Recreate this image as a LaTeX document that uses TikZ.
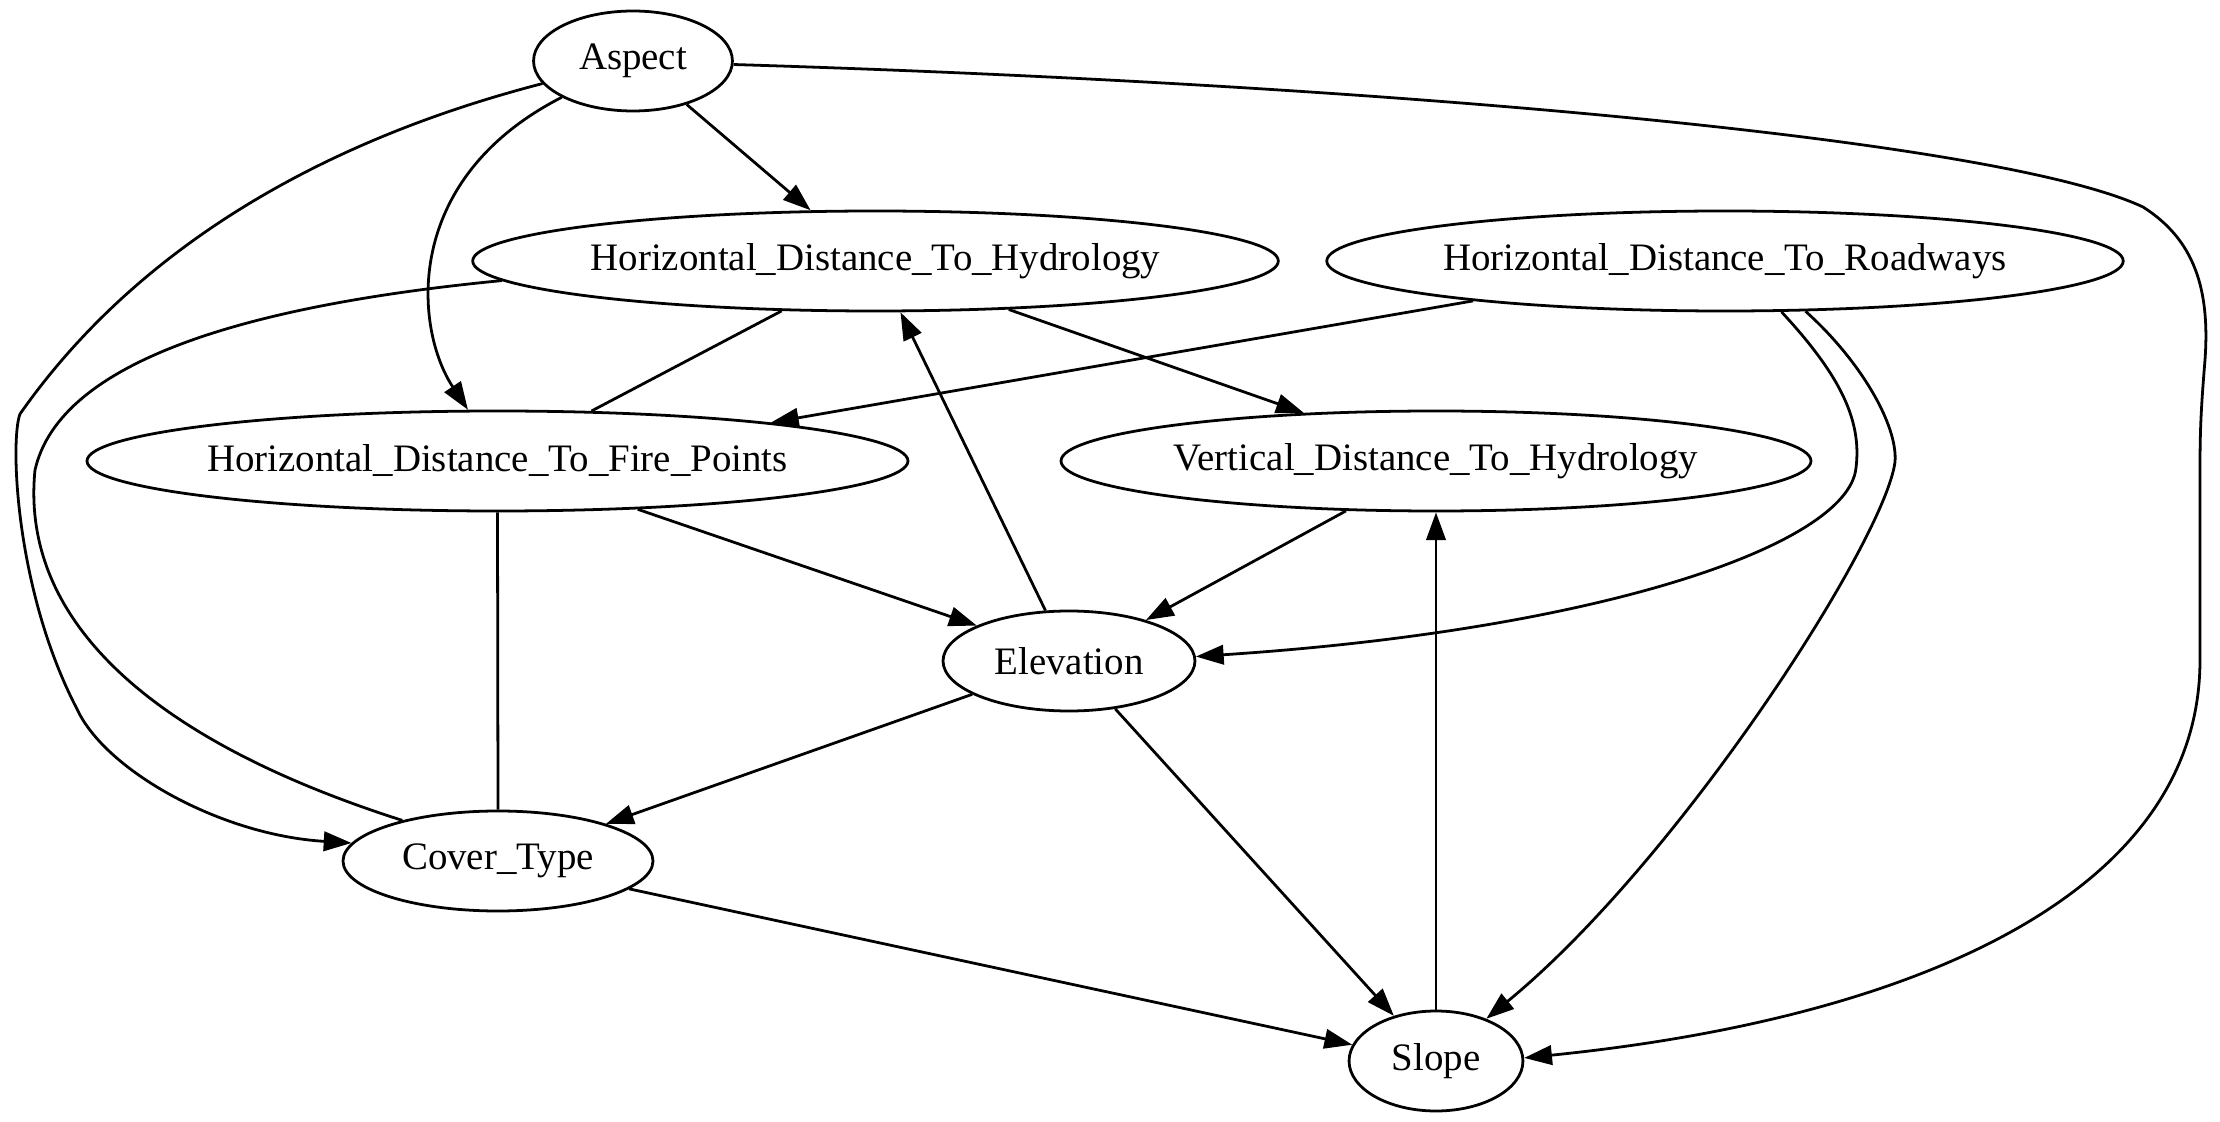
\documentclass[tikz,border=0pt]{standalone}
\usepackage{fontspec}
\setmainfont{Liberation Serif}
\usetikzlibrary{shapes.geometric,arrows.meta}
\tikzset{
  var/.style={draw, ellipse, line width=1pt, inner sep=0pt, minimum height=36pt, font=\fontsize{14}{16}\selectfont},
  arr/.style={line width=1pt, -{Triangle[length=10pt,width=7pt]}},
  undir/.style={line width=1pt}
}
\begin{document}
\begin{tikzpicture}[x=0.36pt,y=-0.36pt]
\useasboundingbox (0,0) rectangle (2220,1122);
\node[var, minimum width=71.6pt]  (asp)   at (633,61)    {Aspect};
\node[var, minimum width=289.4pt] (hdh)   at (875.5,261) {Horizontal\_Distance\_To\_Hydrology};
\node[var, minimum width=285.8pt] (hdr)   at (1725,261)  {Horizontal\_Distance\_To\_Roadways};
\node[var, minimum width=293pt]   (hdfp)  at (497.5,461) {Horizontal\_Distance\_To\_Fire\_Points};
\node[var, minimum width=270pt]   (vdh)   at (1436,461)  {Vertical\_Distance\_To\_Hydrology};
\node[var, minimum width=90.7pt]  (elev)  at (1069,661)  {Elevation};
\node[var, minimum width=111.6pt] (ct)    at (498,861)   {Cover\_Type};
\node[var, minimum width=62.6pt]  (slope) at (1436,1061) {Slope};

% Aspect edges
\draw[arr] (asp.-39) -- (hdh.142);
\draw[arr] (asp.207) .. controls (400,180) and (415,330) .. (hdfp.120);
\draw[arr] (asp.194) .. controls (410,118) and (170,200) .. (20,414)
  .. controls (10,440) and (15,590) .. (77,709)
  .. controls (105,770) and (220,835) .. (ct.173.5);
\draw[arr] (asp.-2) .. controls (1400,85) and (2000,140) .. (2143,207)
  .. controls (2195,240) and (2210,290) .. (2205,360)
  .. controls (2200,420) and (2200,440) .. (2200,480) -- (2200,660)
  .. controls (2200,900) and (1900,1020) .. (slope.2.3);

% HDH edges
\draw[undir] (hdh.208) -- (hdfp.28);
\draw[arr] (hdh.-20) -- (vdh.160);
\draw[undir] (hdh.183.5) .. controls (250,305) and (60,360) .. (35,470)
  .. controls (20,620) and (150,740) .. (ct.157);

% Elevation to HDH
\draw[arr] (elev.115) -- (hdh.-64);

% HDR edges
\draw[arr] (hdr.189.3) -- (hdfp.8.5);
\draw[arr] (hdr.-42.6) .. controls (1840,375) and (1862,420) .. (1856,468)
  .. controls (1848,545) and (1600,630) .. (elev.2.3);
\draw[arr] (hdr.-32.8) .. controls (1860,360) and (1898,425) .. (1895,462)
  .. controls (1885,540) and (1680,860) .. (slope.40);

% HDFP edges
\draw[arr] (hdfp.-19.7) -- (elev.159.7);
\draw[undir] (hdfp.south) -- (ct.north);

% VDH / Slope
\draw[arr] (vdh.209) -- (elev.28.2);
\draw[arr] (slope.north) -- (vdh.south);

% Elevation / Cover_Type
\draw[arr] (elev.199.5) -- (ct.19.1);
\draw[arr] (elev.-46.4) -- (slope.133.7);
\draw[arr] (ct.-12.1) -- (slope.169);
\end{tikzpicture}
\end{document}
